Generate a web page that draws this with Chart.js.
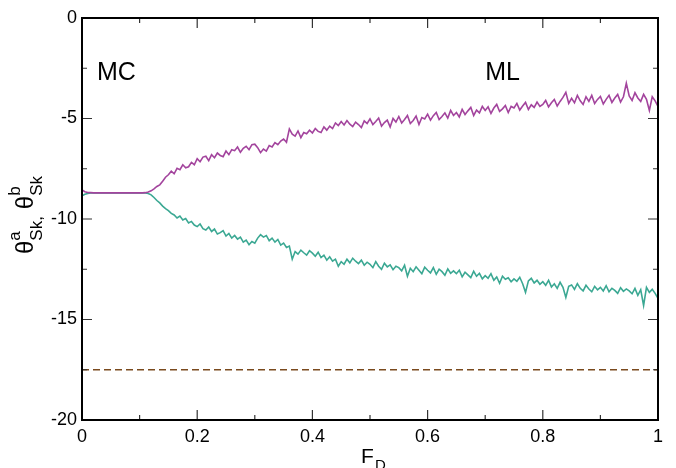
<!DOCTYPE html>
<html lang="en">
<head>
<meta charset="UTF-8">
<title>theta Sk vs F_D</title>
<script src="https://cdn.jsdelivr.net/npm/chart.js"></script>
<style>
  html, body { margin: 0; padding: 0; background: #fff; }
  #wrap { width: 676px; height: 468px; }
</style>
</head>
<body>
<div id="wrap"><canvas id="chart" width="676" height="468"></canvas></div>
<script>
// F_D runs from 0 to 1, one sample every 0.005
const xStep = 0.005;

// theta^a_Sk (upper, magenta)
const thetaA = [
  -8.55, -8.64, -8.68, -8.69, -8.70, -8.70, -8.70, -8.70, -8.70, -8.70,
  -8.70, -8.70, -8.70, -8.70, -8.70, -8.70, -8.70, -8.70, -8.70, -8.70,
  -8.70, -8.70, -8.69, -8.66, -8.60, -8.50, -8.38, -8.30, -8.12, -7.92,
  -7.80, -7.62, -7.75, -7.48, -7.55, -7.30, -7.45, -7.40, -7.18, -7.30,
  -7.00, -7.15, -6.92, -6.88, -7.10, -6.80, -6.95, -6.72, -6.84, -6.90,
  -6.62, -6.80, -6.55, -6.60, -6.42, -6.68, -6.48, -6.38, -6.55, -6.30,
  -6.28, -6.45, -6.70, -6.52, -6.62, -6.35, -6.42, -6.20, -6.30, -6.12,
  -6.02, -6.18, -5.52, -5.78, -5.88, -5.62, -5.95, -5.70, -5.76, -5.58,
  -5.72, -5.50, -5.64, -5.70, -5.42, -5.58, -5.38, -5.50, -5.22, -5.35,
  -5.15, -5.32, -5.10, -5.28, -5.40, -5.18, -5.30, -5.45, -5.12, -5.25,
  -5.02, -5.30, -5.15, -4.98, -5.38, -5.20, -5.08, -5.42, -5.00, -5.18,
  -4.90, -5.22, -5.05, -4.85, -5.25, -5.10, -4.88, -5.30, -4.95, -5.02,
  -4.78, -5.08, -4.86, -4.70, -5.05, -4.90, -4.72, -4.98, -4.60, -4.85,
  -4.70, -4.92, -4.55, -4.80, -4.62, -4.45, -4.85, -4.58, -4.72, -4.40,
  -4.60, -4.42, -4.75, -4.48, -4.30, -4.65, -4.52, -4.35, -4.70, -4.40,
  -4.48, -4.25, -4.58, -4.38, -4.20, -4.55, -4.32, -4.45, -4.18, -4.40,
  -4.30, -4.10, -4.42, -4.22, -4.05, -4.38, -4.15, -3.95, -3.70, -4.25,
  -4.00, -4.22, -3.85, -4.12, -4.30, -3.92, -4.15, -3.85, -4.25, -4.05,
  -3.90, -4.28, -4.05, -3.85, -4.20, -3.98, -3.80, -4.18, -3.92, -3.25,
  -3.88, -4.10, -3.72, -3.98, -4.15, -3.80, -4.05, -4.60, -3.92, -4.12,
  -4.40
];

// theta^b_Sk (lower, teal)
const thetaB = [
  -8.85, -8.77, -8.73, -8.71, -8.70, -8.70, -8.70, -8.70, -8.70, -8.70,
  -8.70, -8.70, -8.70, -8.70, -8.70, -8.70, -8.70, -8.70, -8.70, -8.70,
  -8.70, -8.70, -8.71, -8.73, -8.80, -8.93, -9.08, -9.20, -9.36, -9.48,
  -9.58, -9.72, -9.80, -9.95, -9.85, -10.05, -9.98, -10.20, -10.12, -10.30,
  -10.38, -10.25, -10.48, -10.55, -10.40, -10.62, -10.50, -10.75, -10.68, -10.58,
  -10.85, -10.72, -10.95, -10.82, -11.00, -10.90, -11.15, -11.05, -11.28, -11.12,
  -11.20, -10.95, -10.78, -10.90, -10.82, -11.08, -10.95, -11.15, -11.02, -11.30,
  -11.20, -11.42, -11.35, -12.00, -11.62, -11.75, -11.55, -11.68, -11.80, -11.58,
  -11.70, -11.85, -11.65, -11.92, -11.80, -12.05, -11.88, -12.10, -12.00, -12.35,
  -12.12, -12.25, -12.00, -12.18, -11.95, -12.10, -12.22, -12.05, -12.30, -12.15,
  -12.25, -12.42, -12.12, -12.35, -12.50, -12.20, -12.38, -12.28, -12.52, -12.35,
  -12.42, -12.58, -12.30, -12.85, -12.45, -12.62, -12.38, -12.55, -12.72, -12.40,
  -12.55, -12.68, -12.42, -12.75, -12.50, -12.62, -12.80, -12.48, -12.70, -12.58,
  -12.72, -12.55, -12.88, -12.65, -12.78, -12.92, -12.60, -12.85, -12.70, -12.98,
  -12.82, -12.95, -12.72, -13.05, -12.88, -13.20, -12.85, -13.00, -12.92, -13.12,
  -12.98, -13.10, -12.90, -13.22, -13.65, -13.08, -12.95, -13.18, -13.05, -13.25,
  -13.12, -13.30, -13.05, -13.38, -13.22, -13.45, -13.15, -13.40, -13.90, -13.35,
  -13.28, -13.50, -13.22, -13.45, -13.58, -13.30, -13.48, -13.62, -13.35, -13.52,
  -13.40, -13.58, -13.32, -13.62, -13.45, -13.55, -13.70, -13.42, -13.60, -13.48,
  -13.58, -13.72, -13.45, -13.80, -13.52, -14.30, -13.40, -13.65, -13.50, -13.70,
  -13.95
];

// dashed reference level
const refLevel = -17.5;
const refX = [0, 1];

const xTicks = [0, 0.2, 0.4, 0.6, 0.8, 1];
const yTicks = [-20, -15, -10, -5, 0];

const FONT = '"Liberation Sans", Arial, sans-serif';

function toPoints(arr) {
  return arr.map((v, i) => ({ x: i * xStep, y: v }));
}

// frame, inward ticks, axis titles, region labels
const decor = {
  id: 'decor',
  afterDatasetsDraw(chart) {
    const ctx = chart.ctx;
    const a = chart.chartArea;
    const sx = chart.scales.x, sy = chart.scales.y;
    ctx.save();

    // ticks
    ctx.strokeStyle = '#333';
    ctx.lineWidth = 1.2;
    ctx.beginPath();
    for (let i = 0; i < xTicks.length; i++) {
      const px = sx.getPixelForValue(xTicks[i]);
      ctx.moveTo(px, a.bottom); ctx.lineTo(px, a.bottom - 10);
      ctx.moveTo(px, a.top); ctx.lineTo(px, a.top + 10);
      if (i < xTicks.length - 1) {
        const mx = sx.getPixelForValue((xTicks[i] + xTicks[i + 1]) / 2);
        ctx.moveTo(mx, a.bottom); ctx.lineTo(mx, a.bottom - 5);
        ctx.moveTo(mx, a.top); ctx.lineTo(mx, a.top + 5);
      }
    }
    for (let i = 0; i < yTicks.length; i++) {
      const py = sy.getPixelForValue(yTicks[i]);
      ctx.moveTo(a.left, py); ctx.lineTo(a.left + 10, py);
      ctx.moveTo(a.right, py); ctx.lineTo(a.right - 10, py);
      if (i < yTicks.length - 1) {
        const my = sy.getPixelForValue((yTicks[i] + yTicks[i + 1]) / 2);
        ctx.moveTo(a.left, my); ctx.lineTo(a.left + 5, my);
        ctx.moveTo(a.right, my); ctx.lineTo(a.right - 5, my);
      }
    }
    ctx.stroke();

    // frame
    ctx.strokeStyle = '#000';
    ctx.lineWidth = 2;
    ctx.strokeRect(a.left, a.top, a.right - a.left, a.bottom - a.top);

    // region labels
    ctx.fillStyle = '#000';
    ctx.textBaseline = 'alphabetic';
    ctx.textAlign = 'left';
    ctx.font = '25px ' + FONT;
    ctx.fillText('MC', sx.getPixelForValue(0.026), sy.getPixelForValue(-3.1));
    ctx.fillText('ML', sx.getPixelForValue(0.70), sy.getPixelForValue(-3.1));

    // x title F_D
    ctx.font = '21px ' + FONT;
    ctx.fillText('F', 361, 463);
    ctx.font = '15px ' + FONT;
    ctx.fillText('D', 375, 470);

    // y title, rotated, centred on the plot
    const parts = [['θ', 'a', 'Sk,'], ['θ', 'b', 'Sk']];
    const big = '24px ' + FONT, small = '17px ' + FONT;
    let total = 0;
    parts.forEach((p, k) => {
      ctx.font = big; total += ctx.measureText(p[0]).width;
      ctx.font = small; total += Math.max(ctx.measureText(p[1]).width, ctx.measureText(p[2]).width);
      if (k === 0) total += 7;
    });
    ctx.translate(33, 215 + total / 2);
    ctx.rotate(-Math.PI / 2);
    let x = 0;
    parts.forEach((p, k) => {
      ctx.font = big;
      ctx.fillText(p[0], x, 0);
      x += ctx.measureText(p[0]).width;
      ctx.font = small;
      ctx.fillText(p[1], x, -13);
      ctx.fillText(p[2], x, 9);
      x += Math.max(ctx.measureText(p[1]).width, ctx.measureText(p[2]).width);
      if (k === 0) x += 7;
    });
    ctx.restore();
  }
};

const tickFmt = v => String(parseFloat(Number(v).toFixed(2)));

new Chart(document.getElementById('chart'), {
  type: 'scatter',
  data: {
    datasets: [
      {
        data: toPoints(thetaA),
        showLine: true,
        borderColor: '#a3449d',
        borderWidth: 1.6,
        pointRadius: 0
      },
      {
        data: toPoints(thetaB),
        showLine: true,
        borderColor: '#3ba893',
        borderWidth: 1.6,
        pointRadius: 0
      },
      {
        data: refX.map(v => ({ x: v, y: refLevel })),
        showLine: true,
        borderColor: '#7a4a1e',
        borderWidth: 1.5,
        borderDash: [7, 4],
        pointRadius: 0
      }
    ]
  },
  options: {
    responsive: false,
    animation: false,
    layout: { padding: { left: 0, top: 18, right: 18, bottom: 0 } },
    plugins: { legend: { display: false }, tooltip: { enabled: false } },
    scales: {
      x: {
        type: 'linear', min: 0, max: 1,
        afterBuildTicks: s => { s.ticks = xTicks.map(v => ({ value: v })); },
        afterFit: s => { s.height = 48; },
        grid: { display: false, drawTicks: false },
        border: { display: false },
        ticks: { color: '#000', padding: 6, callback: tickFmt, font: { family: FONT, size: 18 } }
      },
      y: {
        type: 'linear', min: -20, max: 0,
        afterBuildTicks: s => { s.ticks = yTicks.map(v => ({ value: v })); },
        afterFit: s => { s.width = 82; },
        grid: { display: false, drawTicks: false },
        border: { display: false },
        ticks: { color: '#000', padding: 5, callback: tickFmt, font: { family: FONT, size: 18 } }
      }
    }
  },
  plugins: [decor]
});
</script>
</body>
</html>
